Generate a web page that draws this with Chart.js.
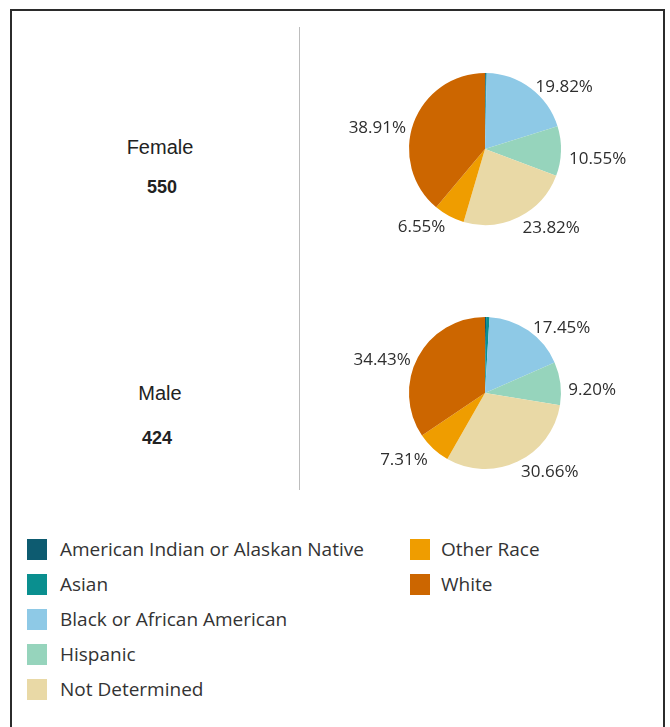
<!DOCTYPE html>
<html>
<head>
<meta charset="utf-8">
<script src="https://cdn.jsdelivr.net/npm/chart.js@4"></script>
<style>
  body { margin:0; background:#fff; width:670px; height:727px; position:relative; overflow:hidden; }
  #frame { position:absolute; left:10px; top:9px; width:651px; height:730px;
           border:2px solid #2b2b2b; border-bottom:none; }
  #sep { position:absolute; left:299px; top:27px; width:1px; height:463px; background:#bdbdbd; }
  .pie { position:absolute; left:310px; }
  .gname { position:absolute; width:120px; text-align:center; font-family:"Liberation Sans", Arial, sans-serif;
           font-size:20px; line-height:24px; color:#222; }
  .gcount { position:absolute; width:120px; text-align:center; font-family:"Liberation Sans", Arial, sans-serif;
            font-size:18px; line-height:24px; font-weight:bold; color:#222; }
  .leg { position:absolute; font-family:"Open Sans", sans-serif; font-size:19px; color:#333; line-height:22px; }
  .leg span { position:absolute; left:0; top:0; width:20px; height:21px; }
  .leg b { font-weight:normal; position:absolute; left:33px; top:-1px; white-space:nowrap; }
</style>
</head>
<body>
<div id="frame"></div>
<div id="sep"></div>
<div id="side"></div>
<div id="legend"></div>
<canvas id="pieFemale" class="pie" width="350" height="240" style="top:29px"></canvas>
<canvas id="pieMale" class="pie" width="350" height="240" style="top:273px"></canvas>
<script>
// categories and colours
var races = ['American Indian or Alaskan Native', 'Asian', 'Black or African American', 'Hispanic',
             'Not Determined', 'Other Race', 'White'];
var raceColors = ['#0d5b70', '#0a8f8f', '#8ec9e6', '#96d4bc', '#e9d9a6', '#ef9d00', '#cc6600'];

// groups
var genders = ['Female', 'Male'];
var totals = [550, 424];

// percentages per race (same order as races)
var femalePct = [0.18, 0.18, 19.82, 10.55, 23.82, 6.55, 38.91];
var malePct = [0.24, 0.71, 17.45, 9.20, 30.66, 7.31, 34.43];

// side labels
var side = document.getElementById('side');
var nameLeft = [100, 100];
var nameTop = [135, 381];
var countLeft = [102, 97];
var countTop = [175, 426];
for (let i=0; i<genders.length; i++) {
    side.innerHTML += '<div class="gname" style="left:' + nameLeft[i] + 'px;top:' + nameTop[i] + 'px">' + genders[i] + '</div>';
    side.innerHTML += '<div class="gcount" style="left:' + countLeft[i] + 'px;top:' + countTop[i] + 'px">' + totals[i] + '</div>';
}

// legend, two columns
var legend = document.getElementById('legend');
for (let i=0; i<races.length; i++) {
    let col = i < 5 ? 0 : 1;
    let row = i < 5 ? i : i - 5;
    let x = col == 0 ? 27 : 410;
    let y = 539 + row * 35;
    legend.innerHTML += '<div class="leg" style="left:' + x + 'px;top:' + y + 'px"><span style="background:' +
        raceColors[i] + '"></span><b' + (col == 1 ? ' style="left:31px"' : '') + '>' + races[i] + '</b></div>';
}

// outside percentage labels
var pctLabels = {
    id: 'pctLabels',
    afterDatasetsDraw: function(chart) {
        let ctx = chart.ctx;
        let meta = chart.getDatasetMeta(0);
        let values = chart.data.datasets[0].data;
        ctx.save();
        ctx.font = '17px "Open Sans", sans-serif';
        ctx.fillStyle = '#2e2e2e';
        ctx.textBaseline = 'middle';
        meta.data.forEach(function(arc, i) {
            if (values[i] < 2) return;
            let p = arc.getProps(['x', 'y', 'startAngle', 'endAngle', 'outerRadius'], true);
            let mid = (p.startAngle + p.endAngle) / 2;
            let r = p.outerRadius + 8;
            let x = p.x + Math.cos(mid) * r;
            let y = p.y + Math.sin(mid) * r + 8 * Math.abs(Math.cos(mid));
            ctx.textAlign = Math.cos(mid) >= 0 ? 'left' : 'right';
            ctx.fillText(values[i].toFixed(2) + '%', x, y);
        });
        ctx.restore();
    }
};

function makePie(id, data) {
    return new Chart(document.getElementById(id), {
        type: 'pie',
        data: {
            labels: races,
            datasets: [{
                data: data,
                backgroundColor: raceColors,
                borderWidth: 0
            }]
        },
        options: {
            responsive: false,
            animation: false,
            layout: { padding: { left: 99, right: 99, top: 44, bottom: 44 } },
            plugins: { legend: { display: false }, tooltip: { enabled: false } }
        },
        plugins: [pctLabels]
    });
}

makePie('pieFemale', femalePct);
makePie('pieMale', malePct);
</script>
</body>
</html>
